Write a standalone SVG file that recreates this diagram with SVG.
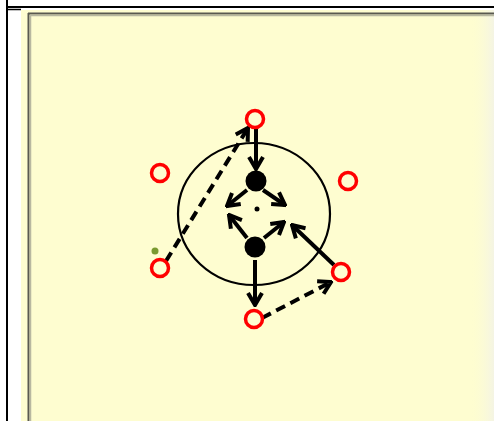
<svg xmlns="http://www.w3.org/2000/svg" width="494" height="421" viewBox="0 0 494 421">
  <defs>
    <style>
      .player { fill: none; stroke: #ff0000; stroke-width: 3.5; }
      .ball { fill: #000000; }
      .conn { fill: none; stroke: #000000; stroke-width: 4; marker-end: url(#arrow); }
      .dash { stroke-dasharray: 10 6; }
      .ring { fill: none; stroke: #000000; stroke-width: 2.2; }
    </style>
    <marker id="arrow" viewBox="0 0 16 18" refX="14" refY="9" markerWidth="16" markerHeight="18" markerUnits="userSpaceOnUse" orient="auto">
      <path d="M2,2 L14,9 L2,16" fill="none" stroke="#000000" stroke-width="4" stroke-linejoin="miter"/>
    </marker>
    <linearGradient id="rightfade" x1="0" y1="0" x2="1" y2="0">
      <stop offset="0" stop-color="#fefdd0" stop-opacity="0"/>
      <stop offset="1" stop-color="#f4f4e4" stop-opacity="1"/>
    </linearGradient>
  </defs>

  <!-- page frame -->
  <rect x="0" y="0" width="494" height="421" fill="#ffffff"/>
  <rect x="21" y="10" width="473" height="411" fill="#fefdd0"/>
  <rect x="470" y="10" width="24" height="411" fill="url(#rightfade)"/>
  <line x1="7" y1="0" x2="7" y2="421" stroke="#000000" stroke-width="2"/>
  <line x1="7" y1="7" x2="494" y2="7" stroke="#000000" stroke-width="2"/>
  <line x1="7" y1="9.5" x2="21" y2="9.5" stroke="#000000" stroke-width="1.5"/>
  <line x1="28.5" y1="13" x2="28.5" y2="421" stroke="#5a5a50" stroke-width="2"/>
  <line x1="28" y1="13.5" x2="494" y2="13.5" stroke="#5a5a50" stroke-width="2"/>
  <line x1="30.5" y1="15" x2="30.5" y2="421" stroke="#b8b8a0" stroke-width="1.5"/>
  <line x1="30" y1="15.5" x2="494" y2="15.5" stroke="#b8b8a0" stroke-width="1.5"/>

  <!-- central ring -->
  <g id="ring">
    <ellipse class="ring" cx="254" cy="214" rx="76" ry="71"/>
  </g>

  <!-- connectors -->
  <g id="connectors">
    <line class="conn" x1="256" y1="129" x2="256" y2="169"/>
    <line class="conn" x1="247" y1="190" x2="227" y2="206"/>
    <line class="conn" x1="263" y1="190" x2="285" y2="205"/>
    <line class="conn" x1="247" y1="238" x2="229" y2="215"/>
    <line class="conn" x1="264" y1="238" x2="284" y2="222"/>
    <line class="conn" x1="255" y1="260" x2="255" y2="305"/>
    <line class="conn dash" x1="166" y1="261" x2="248" y2="128"/>
    <line class="conn" x1="334" y1="265" x2="292" y2="225"/>
    <line class="conn dash" x1="262" y1="318" x2="331" y2="282"/>
  </g>

  <!-- players -->
  <g id="player-top"><circle class="player" cx="255" cy="119" r="8.5"/></g>
  <g id="player-left"><circle class="player" cx="160" cy="173" r="8.5"/></g>
  <g id="player-right"><circle class="player" cx="348" cy="181" r="8.5"/></g>
  <g id="player-lower-left"><circle class="player" cx="160" cy="268" r="8.5"/></g>
  <g id="player-lower-right"><circle class="player" cx="341" cy="272" r="8.5"/></g>
  <g id="player-bottom"><circle class="player" cx="254" cy="319" r="8.5"/></g>

  <!-- balls / markers -->
  <g id="ball-top"><circle class="ball" cx="256" cy="181" r="10.5"/></g>
  <g id="ball-bottom"><circle class="ball" cx="255" cy="247" r="10.5"/></g>
  <g id="center-dot"><circle class="ball" cx="257" cy="209" r="2.5"/></g>
  <g id="green-dot"><circle cx="155" cy="251" r="3.5" fill="#7a9a30"/></g>
</svg>
